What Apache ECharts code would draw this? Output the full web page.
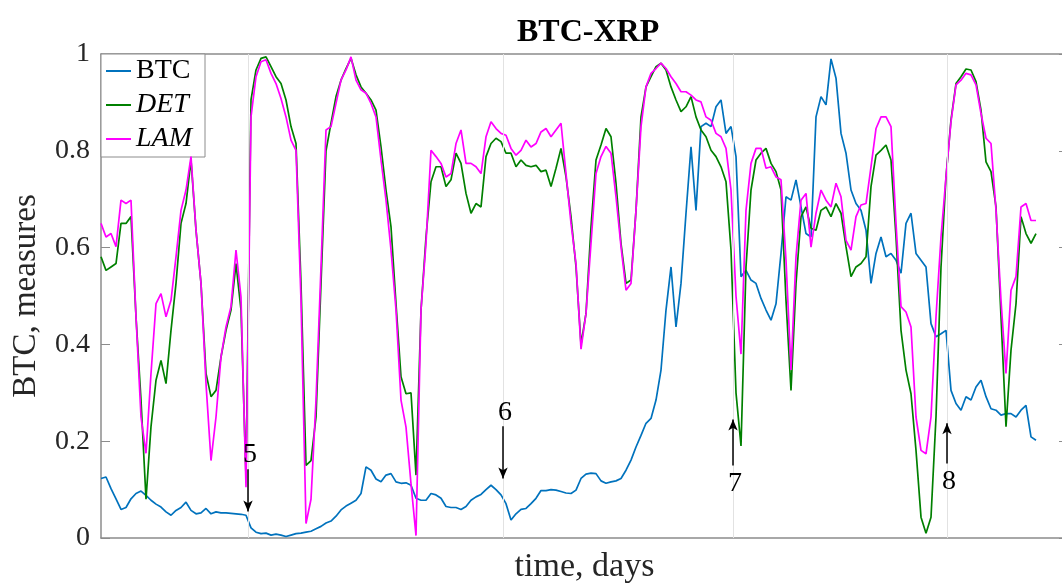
<!DOCTYPE html>
<html><head><meta charset="utf-8">
<script src="https://cdn.jsdelivr.net/npm/echarts@6/dist/echarts.min.js"></script>
<style>html,body{margin:0;padding:0;background:#fff}#c{width:1062px;height:583px}</style>
</head><body><div id="c"></div>
<script>
// x unit: one step of the sampled series
const dayStep = 5;
const btc = [
0.123,0.126,0.102,0.081,0.059,0.063,0.081,0.092,0.097,0.088,0.078,0.070,0.064,0.054,0.047,0.057,0.063,0.074,0.057,0.050,
0.052,0.061,0.050,0.054,0.052,0.052,0.051,0.050,0.049,0.047,0.021,0.012,0.009,0.010,0.006,0.008,0.006,0.003,0.006,0.009,
0.010,0.012,0.014,0.019,0.024,0.031,0.035,0.045,0.058,0.066,0.072,0.078,0.092,0.147,0.140,0.122,0.116,0.130,0.133,0.116,
0.113,0.114,0.109,0.082,0.078,0.078,0.092,0.089,0.082,0.065,0.063,0.063,0.059,0.065,0.078,0.085,0.090,0.100,0.109,0.100,
0.089,0.071,0.037,0.050,0.059,0.061,0.071,0.082,0.098,0.098,0.100,0.099,0.096,0.093,0.092,0.099,0.123,0.132,0.134,0.133,
0.118,0.113,0.116,0.118,0.123,0.140,0.161,0.188,0.212,0.237,0.247,0.285,0.347,0.471,0.560,0.436,0.526,0.671,0.808,0.677,
0.850,0.857,0.850,0.891,0.905,0.836,0.850,0.788,0.540,0.553,0.533,0.526,0.495,0.471,0.450,0.484,0.588,0.705,0.698,0.740,
0.684,0.629,0.622,0.870,0.912,0.895,0.990,0.950,0.836,0.795,0.719,0.691,0.677,0.636,0.526,0.588,0.622,0.581,0.588,0.574,
0.547,0.650,0.671,0.588,0.574,0.560,0.443,0.416,0.422,0.429,0.305,0.278,0.264,0.292,0.285,0.312,0.326,0.292,0.267,0.264,
0.254,0.257,0.257,0.250,0.264,0.274,0.209,0.202];
const det = [
0.581,0.553,0.560,0.567,0.650,0.650,0.664,0.457,0.285,0.080,0.230,0.326,0.367,0.319,0.429,0.526,0.650,0.691,0.781,0.636,
0.526,0.340,0.292,0.305,0.374,0.429,0.471,0.567,0.471,0.126,0.905,0.967,0.991,0.994,0.974,0.953,0.939,0.905,0.850,0.815,
0.526,0.150,0.160,0.250,0.526,0.800,0.857,0.912,0.946,0.970,0.991,0.957,0.932,0.919,0.905,0.884,0.808,0.719,0.643,0.484,
0.333,0.298,0.300,0.130,0.471,0.622,0.736,0.767,0.767,0.726,0.740,0.795,0.774,0.712,0.671,0.691,0.684,0.788,0.815,0.826,
0.819,0.795,0.795,0.767,0.781,0.770,0.767,0.770,0.757,0.760,0.726,0.764,0.805,0.746,0.664,0.560,0.400,0.464,0.643,0.781,
0.812,0.846,0.829,0.733,0.609,0.526,0.533,0.677,0.870,0.932,0.953,0.974,0.981,0.967,0.932,0.905,0.881,0.891,0.912,0.870,
0.843,0.829,0.801,0.788,0.767,0.736,0.595,0.300,0.190,0.560,0.719,0.781,0.795,0.805,0.774,0.757,0.719,0.491,0.305,0.526,
0.664,0.684,0.640,0.636,0.677,0.684,0.664,0.691,0.671,0.602,0.540,0.560,0.567,0.581,0.726,0.791,0.801,0.812,0.781,0.622,
0.429,0.347,0.298,0.181,0.043,0.010,0.043,0.250,0.560,0.746,0.864,0.939,0.953,0.969,0.967,0.943,0.884,0.777,0.757,0.684,
0.457,0.230,0.388,0.484,0.664,0.629,0.609,0.629];
const lam = [
0.650,0.622,0.629,0.602,0.698,0.691,0.698,0.457,0.250,0.175,0.340,0.484,0.505,0.457,0.491,0.581,0.677,0.719,0.788,0.636,
0.526,0.319,0.160,0.250,0.374,0.436,0.478,0.595,0.498,0.105,0.870,0.953,0.984,0.988,0.960,0.939,0.908,0.870,0.822,0.801,
0.491,0.030,0.080,0.285,0.560,0.843,0.850,0.898,0.946,0.967,0.994,0.946,0.926,0.919,0.898,0.870,0.781,0.698,0.595,0.471,
0.285,0.229,0.112,0.005,0.471,0.609,0.801,0.788,0.774,0.746,0.753,0.815,0.843,0.774,0.774,0.767,0.753,0.829,0.860,0.846,
0.836,0.832,0.805,0.791,0.801,0.822,0.808,0.815,0.839,0.846,0.829,0.843,0.857,0.753,0.650,0.567,0.390,0.464,0.609,0.753,
0.788,0.809,0.795,0.705,0.602,0.512,0.526,0.677,0.850,0.932,0.960,0.970,0.981,0.970,0.953,0.939,0.922,0.922,0.915,0.905,
0.901,0.870,0.863,0.836,0.829,0.805,0.719,0.500,0.380,0.677,0.774,0.805,0.805,0.764,0.767,0.746,0.740,0.574,0.347,0.581,
0.698,0.712,0.601,0.671,0.719,0.698,0.684,0.733,0.705,0.615,0.595,0.664,0.688,0.691,0.767,0.846,0.870,0.870,0.850,0.650,
0.478,0.467,0.436,0.250,0.181,0.174,0.250,0.457,0.622,0.746,0.860,0.936,0.946,0.960,0.957,0.936,0.877,0.826,0.815,0.677,
0.491,0.340,0.512,0.540,0.684,0.691,0.656,0.656];
const seriesNames = ['BTC', 'DET', 'LAM'];
const eventDays = [147, 402, 632, 846];
const eventLabels = ['5', '6', '7', '8'];
const arrowFrom = [0.142, 0.231, 0.150, 0.154];
const arrowTo = [0.055, 0.123, 0.245, 0.237];
const labelDays = [149, 404, 634, 848];
const labelVals = [0.172, 0.260, 0.113, 0.117];
const xMax = 967;

const toPairs = arr => arr.map((v, i) => [i * dayStep, v]);
const serif = "'Liberation Serif', 'Times New Roman', serif";
const axisGray = '#8c8c8c';
const axisLineCfg = { show: true, onZero: false, lineStyle: { color: axisGray, width: 1.5 } };

const chart = echarts.init(document.getElementById('c'), null, { renderer: 'canvas' });
chart.setOption({
  animation: false,
  backgroundColor: '#fff',
  title: { text: 'BTC-XRP', left: 512, top: 12,
    textStyle: { fontFamily: serif, fontWeight: 'bold', fontSize: 32, color: '#000' } },
  legend: {
    orient: 'vertical', left: 101, top: 54, padding: [3, 13, 4, 5], itemGap: 6,
    icon: 'rect', itemWidth: 25, itemHeight: 2,
    borderColor: axisGray, borderWidth: 1, backgroundColor: '#fff',
    textStyle: { fontFamily: serif, fontSize: 28, color: '#000' },
    data: [
      { name: seriesNames[0] },
      { name: seriesNames[1], textStyle: { fontStyle: 'italic' } },
      { name: seriesNames[2], textStyle: { fontStyle: 'italic' } }
    ]
  },
  grid: { left: 101, top: 54, width: 967, height: 484, outerBoundsMode: 'none', containLabel: false },
  xAxis: [
    { type: 'value', min: 0, max: xMax, position: 'bottom',
      name: 'time, days', nameLocation: 'middle', nameGap: 12,
      nameTextStyle: { fontFamily: serif, fontSize: 34, color: '#262626' },
      axisLine: axisLineCfg,
      axisTick: { show: true, inside: true, length: 9, customValues: eventDays, lineStyle: { color: '#444' } },
      axisLabel: { show: false }, splitLine: { show: false } },
    { type: 'value', min: 0, max: xMax, position: 'top',
      axisLine: axisLineCfg,
      axisTick: { show: true, inside: true, length: 9, customValues: eventDays, lineStyle: { color: '#444' } },
      axisLabel: { show: false }, splitLine: { show: false } }
  ],
  yAxis: [
    { type: 'value', min: 0, max: 1, interval: 0.2, position: 'left',
      name: 'BTC, measures', nameLocation: 'middle', nameGap: 58, nameRotate: 90,
      nameTextStyle: { fontFamily: serif, fontSize: 33, color: '#262626' },
      axisLine: axisLineCfg,
      axisTick: { show: true, inside: true, length: 9, lineStyle: { color: axisGray } },
      axisLabel: { fontFamily: serif, fontSize: 28, color: '#262626', margin: 11, padding: [11, 0, 0, 0] },
      splitLine: { show: false } },
    { type: 'value', min: 0, max: 1, interval: 0.2, position: 'right',
      axisLine: axisLineCfg,
      axisTick: { show: true, inside: true, length: 9, lineStyle: { color: axisGray } },
      axisLabel: { show: false }, splitLine: { show: false } }
  ],
  series: [
    { name: 'grid', type: 'line', data: [], z: 1, silent: true,
      markLine: { silent: true, symbol: ['none', 'none'], label: { show: false },
        lineStyle: { color: '#e2e2e2', width: 1, type: 'solid' },
        data: eventDays.map(d => ({ xAxis: d })) } },
    { name: seriesNames[0], type: 'line', data: toPairs(btc), showSymbol: false, z: 2,
      color: '#0072BD', lineStyle: { width: 1.7, color: '#0072BD' } },
    { name: seriesNames[1], type: 'line', data: toPairs(det), showSymbol: false, z: 3,
      color: '#008000', lineStyle: { width: 1.7, color: '#008000' } },
    { name: seriesNames[2], type: 'line', data: toPairs(lam), showSymbol: false, z: 4,
      color: '#FF00FF', lineStyle: { width: 1.7, color: '#FF00FF' } },
    { name: 'events', type: 'line', data: [], z: 6, silent: true,
      markLine: { silent: true, symbol: ['none', 'arrow'], symbolSize: [7, 11], label: { show: false },
        lineStyle: { color: '#000', width: 1.5, type: 'solid' },
        data: eventDays.map((d, i) => [{ coord: [d, arrowFrom[i]] }, { coord: [d, arrowTo[i]] }]) },
      markPoint: { silent: true, symbol: 'circle', symbolSize: 0,
        label: { show: true, position: 'inside', formatter: '{b}', fontFamily: serif, fontSize: 28, color: '#000' },
        data: eventLabels.map((s, i) => ({ name: s, coord: [labelDays[i], labelVals[i]] })) } }
  ]
});
</script>
</body></html>
